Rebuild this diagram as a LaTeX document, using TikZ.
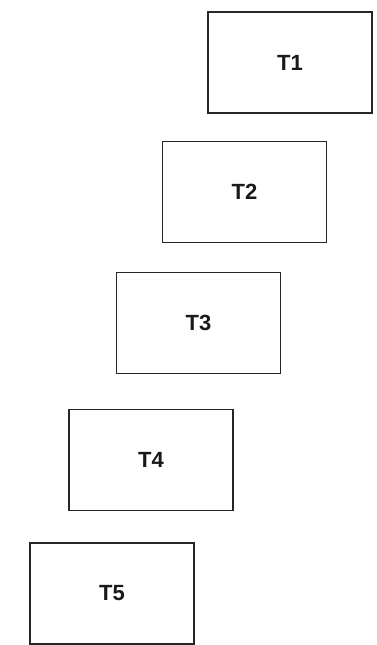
\documentclass[tikz,border=0pt]{standalone}
\usepackage{fontspec}
\setmainfont{Liberation Sans}
\begin{document}
\begin{tikzpicture}[x=1pt,y=-1pt,
  tbox/.style={draw=black!85, line width=1.4pt, minimum width=164pt, minimum height=101pt, inner sep=0pt, font=\fontsize{22}{26}\selectfont\bfseries, text=black!90}]
\useasboundingbox (0,0) rectangle (377,645);
\node[tbox] (t1) at (290,62.5) {T1};
\node[tbox] (t2) at (244.5,192) {T2};
\node[tbox] (t3) at (198.5,323) {T3};
\node[tbox] (t4) at (151,460) {T4};
\node[tbox] (t5) at (112,593.5) {T5};
\end{tikzpicture}
\end{document}
